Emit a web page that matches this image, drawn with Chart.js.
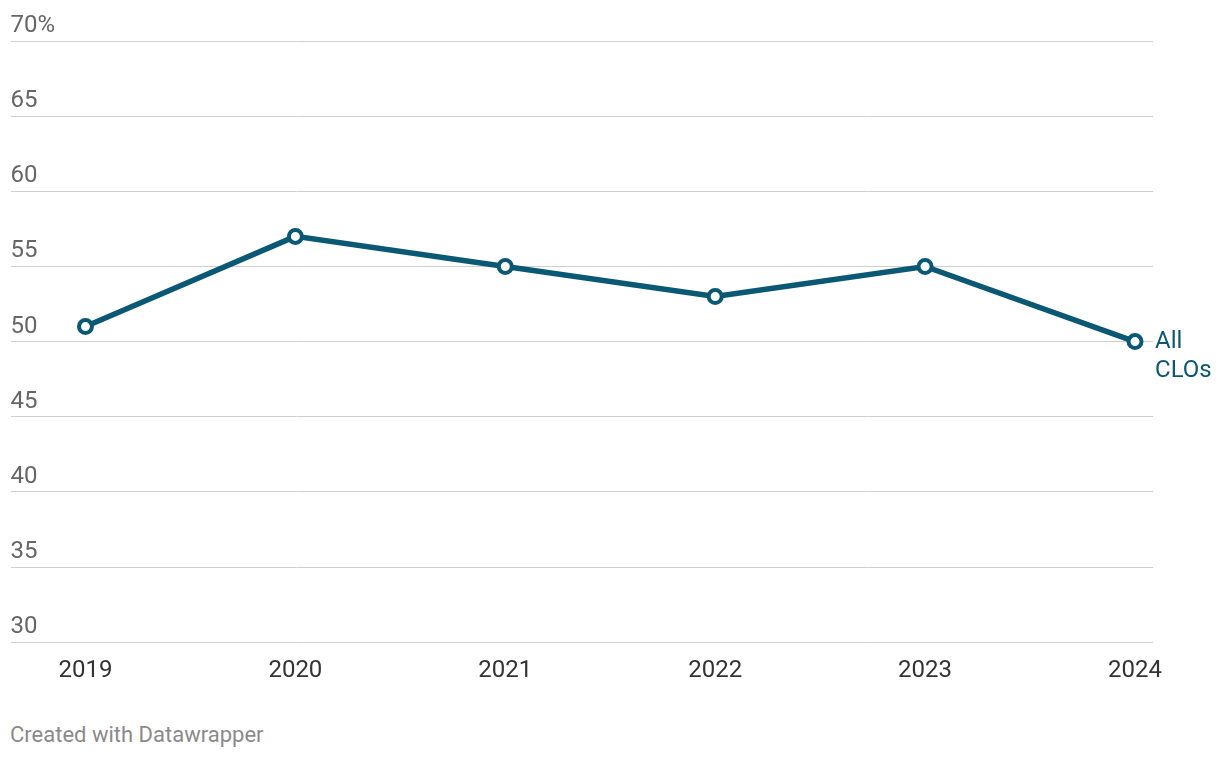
<!DOCTYPE html>
<html>
<head>
<meta charset="utf-8">
<script src="https://cdn.jsdelivr.net/npm/chart.js@4"></script>
<style>
  body { margin: 0; background: #fff; font-family: Roboto, sans-serif; }
  #wrap { position: relative; width: 1220px; height: 758px; }
  #chartBox { position: absolute; left: 0; top: 0; width: 1220px; height: 700px; }
  #credit { position: absolute; left: 10px; top: 722px; font-size: 22px; color: #8a8a8a; }
</style>
</head>
<body>
<div id="wrap">
  <div id="chartBox"><canvas id="myChart"></canvas></div>
  <div id="credit">Created with Datawrapper</div>
</div>
<script>
// data
const years = [2019, 2020, 2021, 2022, 2023, 2024]
const allClos = [51, 57, 55, 53, 55, 50]
const seriesLabel = ["All", "CLOs"]
const yTicks = [30, 35, 40, 45, 50, 55, 60, 65, 70]

const lineColor = "#0b5874"

// label at the end of the line
const endLabel = {
    id: "endLabel",
    afterDatasetsDraw(chart) {
        const meta = chart.getDatasetMeta(0)
        const last = meta.data[meta.data.length - 1]
        const ctx = chart.ctx
        ctx.save()
        ctx.font = "24px Roboto"
        ctx.fillStyle = lineColor
        ctx.textAlign = "left"
        ctx.textBaseline = "middle"
        seriesLabel.forEach((t, i) => {
            ctx.fillText(t, last.x + 20, last.y + i * 29)
        })
        ctx.restore()
    }
}

const data = {
    datasets: [{
        label: "All CLOs",
        data: years.map((y, i) => ({ x: y, y: allClos[i] })),
        borderColor: lineColor,
        borderWidth: 5.5,
        pointRadius: 6.5,
        pointBorderWidth: 4,
        pointBackgroundColor: "#fff",
        pointBorderColor: lineColor,
        tension: 0
    }]
}

const config = {
    type: "line",
    data: data,
    options: {
        responsive: true,
        maintainAspectRatio: false,
        animation: false,
        layout: { padding: { left: 10, right: 67, top: 41, bottom: 1 } },
        plugins: { legend: { display: false }, tooltip: { enabled: false } },
        scales: {
            x: {
                type: "linear",
                min: 2019 - 75 / 210,
                max: 2024 + 18 / 210,
                afterBuildTicks: axis => { axis.ticks = years.map(v => ({ value: v })) },
                grid: { display: false, drawTicks: false },
                border: { display: false },
                ticks: {
                    padding: 14,
                    color: "#333",
                    font: { family: "Roboto", size: 24 },
                    callback: v => String(v)
                }
            },
            y: {
                min: 30,
                max: 70,
                afterBuildTicks: axis => { axis.ticks = yTicks.map(v => ({ value: v })) },
                grid: { color: "#cfcfcf", lineWidth: 1, drawTicks: false },
                border: { display: false },
                ticks: {
                    mirror: true,
                    padding: 0,
                    labelOffset: -15,
                    color: "#666",
                    font: { family: "Roboto", size: 24 },
                    callback: v => v === 70 ? v + "%" : String(v)
                }
            }
        }
    },
    plugins: [endLabel]
}

let myChart = new Chart(document.getElementById("myChart"), config)
</script>
</body>
</html>
